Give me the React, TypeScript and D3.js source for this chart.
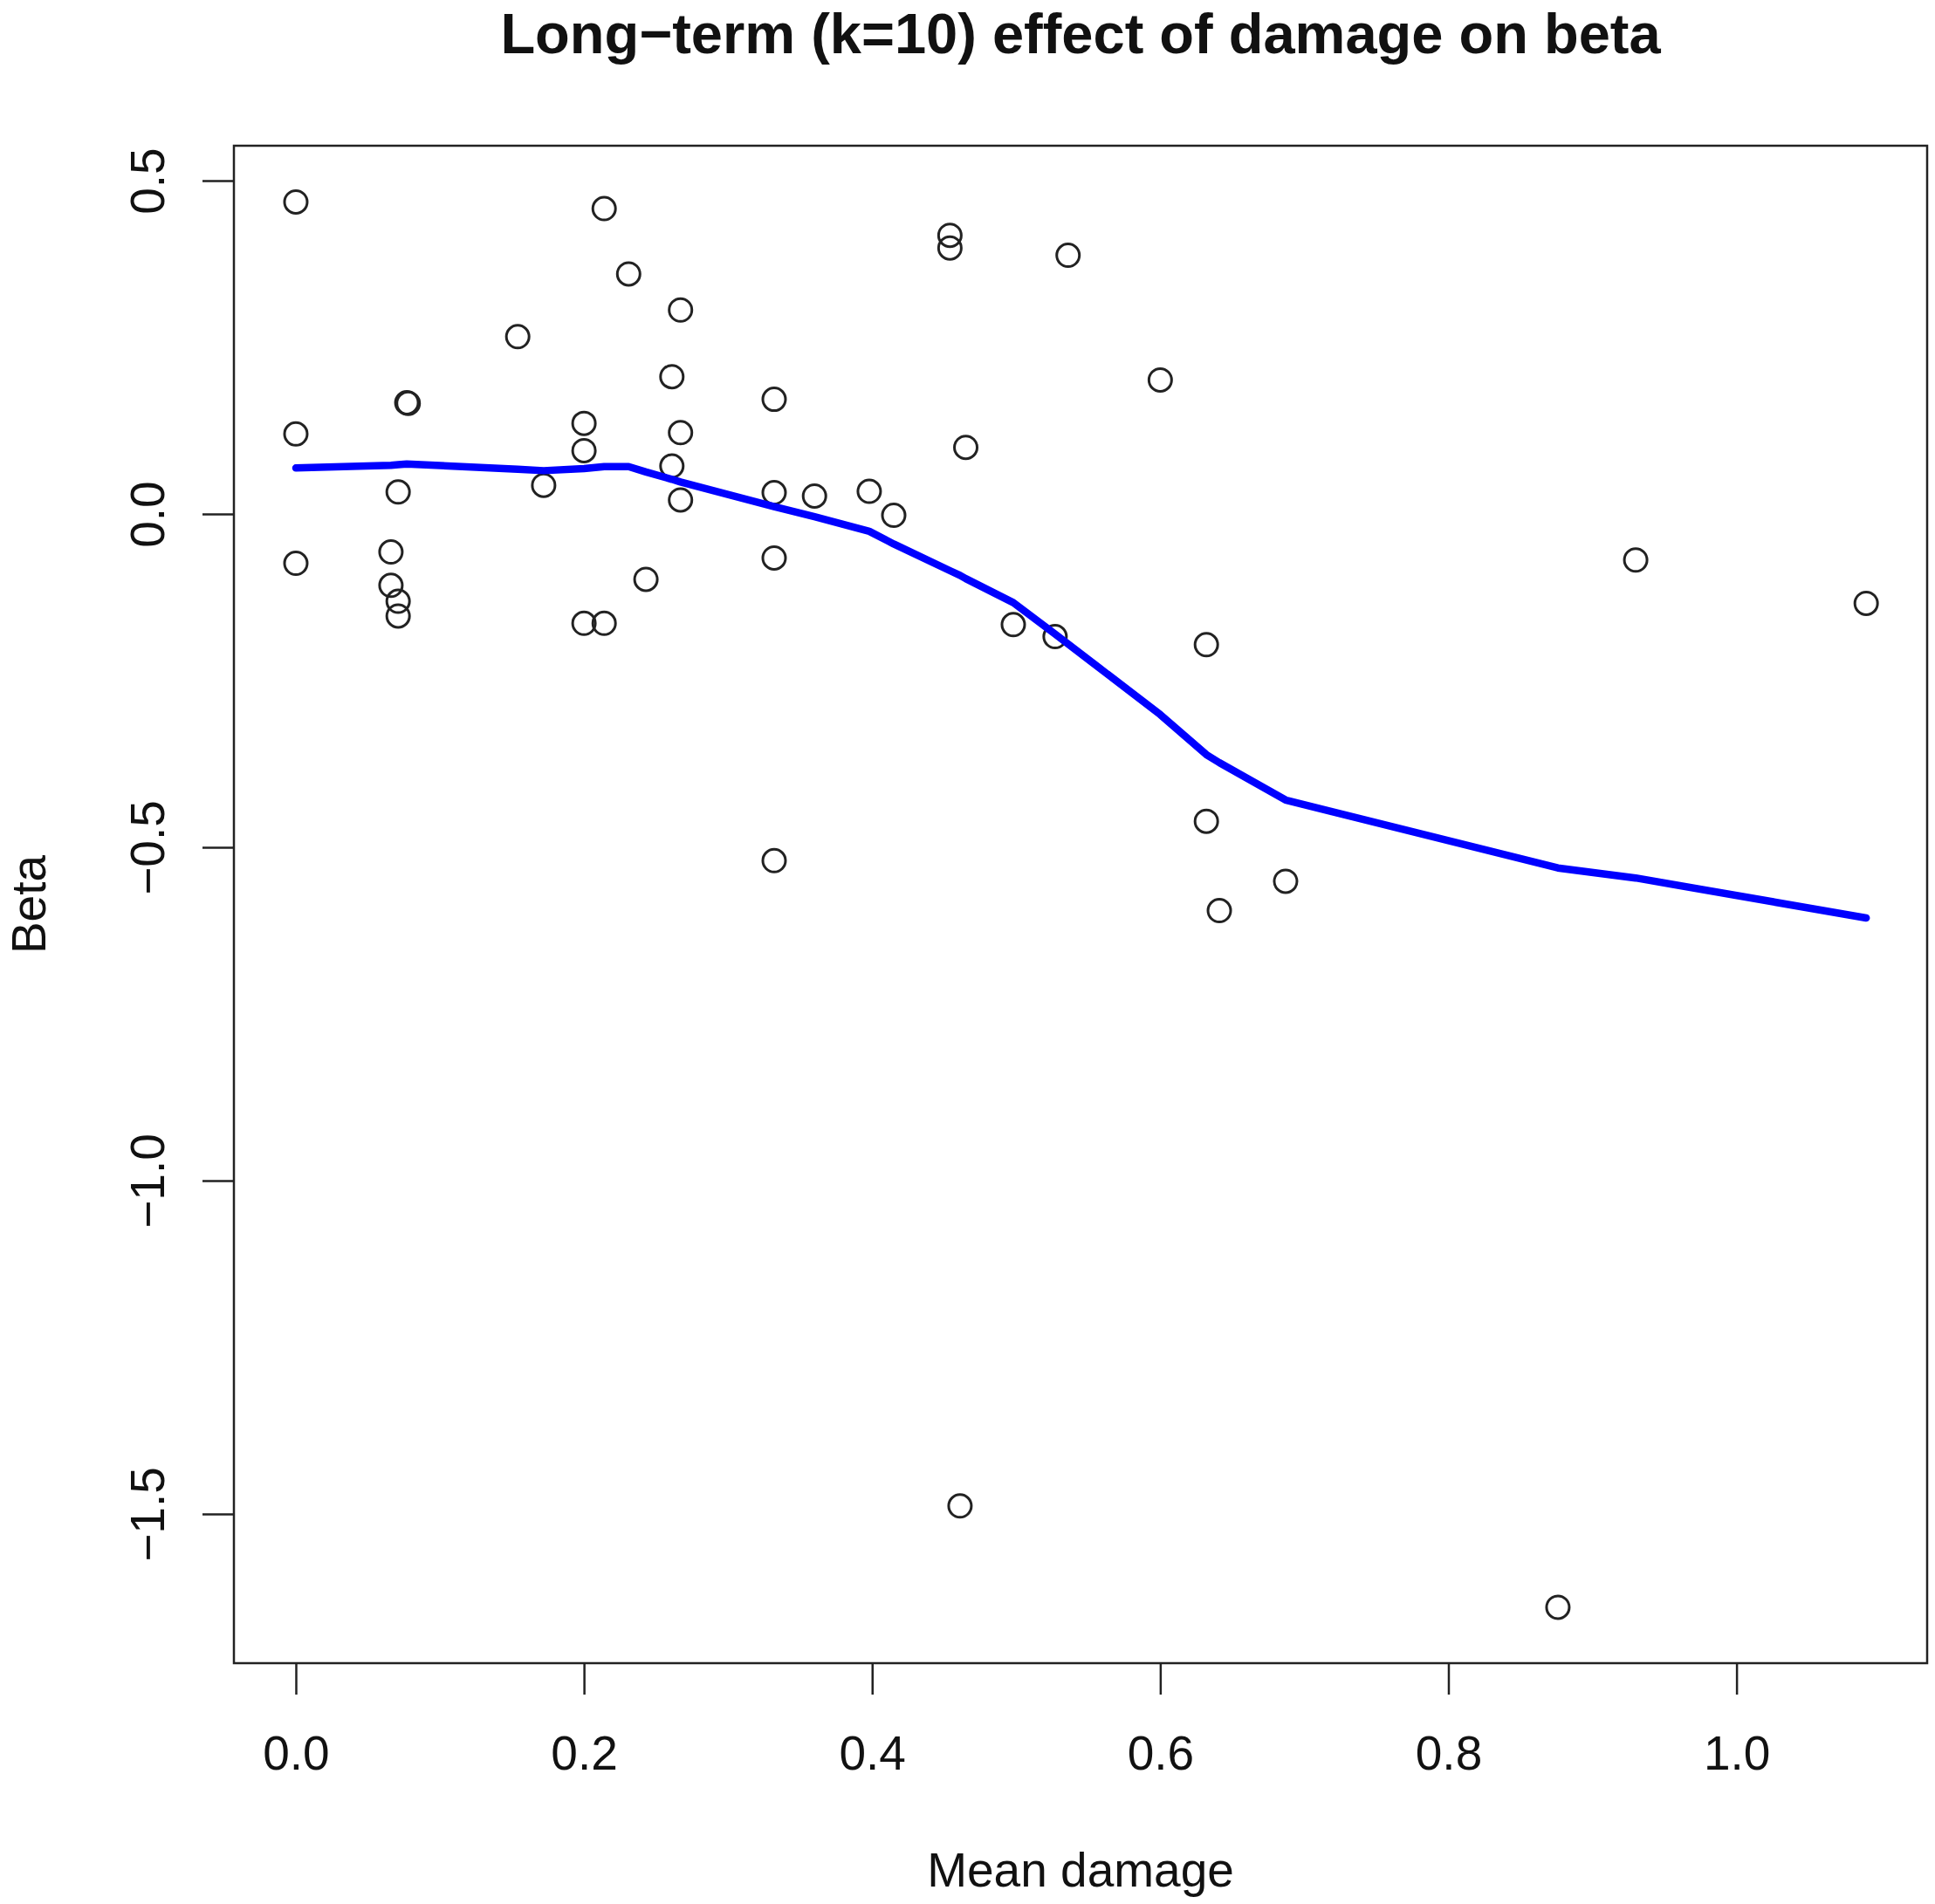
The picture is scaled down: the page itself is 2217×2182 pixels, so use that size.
import { useEffect, useRef } from 'react';
import * as d3 from 'd3';

// scatter: mean damage vs beta
const damage = [
  0.0, 0.214, 0.231, 0.267, 0.154, 0.261, 0.077, 0.078, 0.0, 0.2, 0.2, 0.267, 0.261, 0.172, 0.071,
  0.267, 0.0, 0.066, 0.066, 0.071, 0.071, 0.2, 0.214, 0.243, 0.454, 0.454, 0.536, 0.6, 0.332, 0.465,
  0.332, 0.36, 0.398, 0.415, 0.332, 0.498, 0.527, 0.632, 0.632, 0.687, 0.641, 0.93, 1.09, 0.461,
  0.876, 0.332,
];
const beta = [
  0.468, 0.458, 0.36, 0.306, 0.266, 0.206, 0.167, 0.166, 0.12, 0.136, 0.095, 0.122, 0.072, 0.043,
  0.033, 0.021, -0.074, -0.057, -0.107, -0.131, -0.153, -0.164, -0.164, -0.098, 0.418, 0.399, 0.388,
  0.201, 0.172, 0.1, 0.032, 0.027, 0.034, -0.002, -0.066, -0.166, -0.184, -0.196, -0.461, -0.551,
  -0.595, -0.069, -0.134, -1.488, -1.64, -0.52,
];

// lowess fit
const smoothX = [
  0, 0.066, 0.071, 0.077, 0.154, 0.172, 0.2, 0.214, 0.231, 0.243, 0.261, 0.267, 0.332, 0.36, 0.398,
  0.415, 0.454, 0.461, 0.465, 0.498, 0.527, 0.6, 0.632, 0.641, 0.687, 0.876, 0.93, 1.09,
];
const smoothY = [
  0.069, 0.073, 0.074, 0.075, 0.067, 0.065, 0.068, 0.071, 0.071, 0.063, 0.052, 0.048, 0.011, -0.004,
  -0.026, -0.045, -0.085, -0.092, -0.097, -0.133, -0.18, -0.301, -0.361, -0.373, -0.429, -0.531,
  -0.546, -0.606,
];

const xTicks = [0, 0.2, 0.4, 0.6, 0.8, 1.0];
const yTicks = [0.5, 0, -0.5, -1.0, -1.5];
const xLim = [-0.043, 1.1323];
const yLim = [-1.7238, 0.5524];

const W = 2217;
const H = 2182;
const M = { top: 167, right: 9, bottom: 276, left: 268 };
const FONT = '"Liberation Sans", Arial, Helvetica, sans-serif';

export default function App() {
  const svgRef = useRef<SVGSVGElement>(null);

  useEffect(() => {
    if (!svgRef.current) return;
    const svg = d3.select(svgRef.current);
    svg.selectAll('*').remove();

    const x = d3.scaleLinear(xLim, [M.left, W - M.right]);
    const y = d3.scaleLinear(yLim, [H - M.bottom, M.top]);
    const fmt = d3.format('.1f');

    svg.append('rect').attr('width', W).attr('height', H).attr('fill', '#fff');

    // points
    svg.append('g')
      .selectAll('circle')
      .data(damage)
      .join('circle')
      .attr('cx', d => x(d))
      .attr('cy', (d, i) => y(beta[i]))
      .attr('r', 13)
      .attr('fill', 'none')
      .attr('stroke', '#222')
      .attr('stroke-width', 3);

    // smoother
    const pts = smoothX.map((v, i) => [v, smoothY[i]] as [number, number]);
    svg.append('path')
      .attr('fill', 'none')
      .attr('stroke', '#0000ff')
      .attr('stroke-width', 8.5)
      .attr('stroke-linecap', 'round')
      .attr('stroke-linejoin', 'round')
      .attr('d', d3.line<[number, number]>().x(p => x(p[0])).y(p => y(p[1]))(pts) ?? '');

    // box
    svg.append('rect')
      .attr('x', M.left)
      .attr('y', M.top)
      .attr('width', W - M.left - M.right)
      .attr('height', H - M.top - M.bottom)
      .attr('fill', 'none')
      .attr('stroke', '#222')
      .attr('stroke-width', 2.5);

    // x axis
    svg.append('g')
      .attr('transform', `translate(0,${H - M.bottom})`)
      .call(d3.axisBottom(x).tickValues(xTicks).tickSize(36).tickFormat(d => fmt(d as number)))
      .call(g => {
        g.select('.domain').remove();
        g.selectAll('.tick line').attr('stroke', '#222').attr('stroke-width', 2.5);
        g.selectAll('.tick text')
          .attr('y', 122)
          .attr('dy', null)
          .attr('fill', '#111')
          .attr('font-size', 55)
          .attr('font-family', FONT);
      });

    // y axis
    svg.append('g')
      .attr('transform', `translate(${M.left},0)`)
      .call(d3.axisLeft(y).tickValues(yTicks).tickSize(36).tickFormat(d => fmt(d as number)))
      .call(g => {
        g.select('.domain').remove();
        g.selectAll('.tick line').attr('stroke', '#222').attr('stroke-width', 2.5);
        g.selectAll('.tick text')
          .attr('x', 0)
          .attr('y', 0)
          .attr('dy', null)
          .attr('transform', 'translate(-80,0) rotate(-90)')
          .attr('text-anchor', 'middle')
          .attr('fill', '#111')
          .attr('font-size', 55)
          .attr('font-family', FONT);
      });

    // titles
    const cx = (M.left + W - M.right) / 2;
    svg.append('text')
      .attr('x', cx)
      .attr('y', 61)
      .attr('text-anchor', 'middle')
      .attr('font-family', FONT)
      .attr('font-weight', 'bold')
      .attr('font-size', 65)
      .attr('fill', '#111')
      .text('Long\u2212term (k=10) effect of damage on beta');

    svg.append('text')
      .attr('x', cx)
      .attr('y', 2162)
      .attr('text-anchor', 'middle')
      .attr('font-family', FONT)
      .attr('font-size', 55)
      .attr('fill', '#111')
      .text('Mean damage');

    svg.append('text')
      .attr('transform', `translate(52,${(M.top + H - M.bottom) / 2}) rotate(-90)`)
      .attr('text-anchor', 'middle')
      .attr('font-family', FONT)
      .attr('font-size', 55)
      .attr('fill', '#111')
      .text('Beta');
  }, []);

  return (
    <svg
      ref={svgRef}
      width={W}
      height={H}
      style={{ position: 'absolute', left: 0, top: 0, display: 'block' }}
    />
  );
}
